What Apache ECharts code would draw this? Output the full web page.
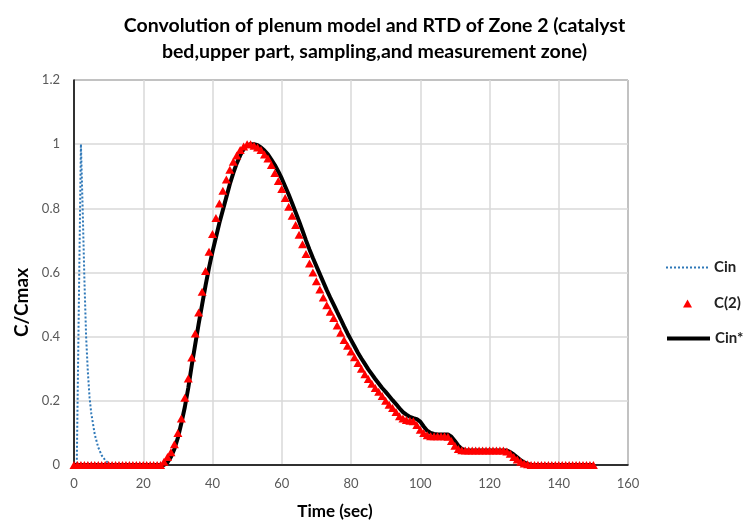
<!DOCTYPE html>
<html>
<head>
    <meta charset="utf-8">
    <script src="https://cdn.jsdelivr.net/npm/echarts@6/dist/echarts.min.js"></script>
</head>
<body style="margin:0;background:#fff;">
    <div id="main" style="width: 749px;height:525px;"></div>
    <script type="text/javascript">

    // time (sec), sampled every second
    var time = [0,1,2,3,4,5,6,7,8,9,
        10,11,12,13,14,15,16,17,18,19,
        20,21,22,23,24,25,26,27,28,29,
        30,31,32,33,34,35,36,37,38,39,
        40,41,42,43,44,45,46,47,48,49,
        50,51,52,53,54,55,56,57,58,59,
        60,61,62,63,64,65,66,67,68,69,
        70,71,72,73,74,75,76,77,78,79,
        80,81,82,83,84,85,86,87,88,89,
        90,91,92,93,94,95,96,97,98,99,
        100,101,102,103,104,105,106,107,108,109,
        110,111,112,113,114,115,116,117,118,119,
        120,121,122,123,124,125,126,127,128,129,
        130,131,132,133,134,135,136,137,138,139,
        140,141,142,143,144,145,146,147,148,149,150];

    // C(2) measured, C/Cmax
    var c2 = [0,0,0,0,0,0,0,0,0,0,
        0,0,0,0,0,0,0,0,0,0,
        0,0,0,0,0,0,0.01,0.025,0.04,0.065,
        0.10,0.145,0.21,0.27,0.335,0.41,0.475,0.54,0.605,0.665,
        0.72,0.77,0.815,0.855,0.89,0.92,0.945,0.965,0.982,0.993,
        1.0,1.0,0.995,0.99,0.982,0.968,0.955,0.935,0.91,0.885,
        0.86,0.832,0.805,0.777,0.748,0.718,0.688,0.658,0.628,0.6,
        0.573,0.547,0.522,0.498,0.478,0.458,0.435,0.412,0.39,0.372,
        0.354,0.336,0.318,0.3,0.283,0.268,0.253,0.24,0.228,0.215,
        0.2,0.188,0.178,0.165,0.152,0.145,0.14,0.138,0.136,0.125,
        0.11,0.1,0.093,0.09,0.09,0.09,0.09,0.09,0.088,0.075,
        0.06,0.05,0.046,0.045,0.045,0.045,0.045,0.045,0.045,0.045,
        0.045,0.045,0.045,0.045,0.045,0.042,0.035,0.025,0.017,0.01,
        0.005,0.002,0,0,0,0,0,0,0,0,
        0,0,0,0,0,0,0,0,0,0,0];

    // Cin* convolution result
    var cinStar = [0,0,0,0,0,0,0,0,0,0,
        0,0,0,0,0,0,0,0,0,0,
        0,0,0,0,0,0,0,0.008,0.025,0.05,
        0.085,0.13,0.18,0.24,0.31,0.375,0.44,0.5,0.56,0.615,
        0.665,0.71,0.755,0.795,0.835,0.875,0.91,0.94,0.965,0.985,
        0.996,1.0,1.0,0.997,0.99,0.98,0.968,0.952,0.935,0.915,
        0.893,0.868,0.843,0.816,0.788,0.76,0.73,0.7,0.672,0.645,
        0.62,0.595,0.57,0.545,0.522,0.5,0.477,0.455,0.432,0.41,
        0.39,0.37,0.35,0.332,0.315,0.298,0.283,0.268,0.254,0.24,
        0.228,0.215,0.202,0.19,0.177,0.165,0.157,0.15,0.146,0.143,
        0.135,0.12,0.107,0.1,0.097,0.095,0.095,0.095,0.095,0.088,
        0.075,0.06,0.05,0.046,0.045,0.045,0.045,0.045,0.045,0.045,
        0.045,0.045,0.045,0.045,0.045,0.045,0.04,0.033,0.024,0.015,
        0.008,0.003,0,0,0,0,0,0,0,0,
        0,0,0,0,0,0,0,0,0,0,0];

    // Cin plenum input
    var cinTime = [0,0.8,2,2.5,3,3.5,4,4.5,5,6,7,8,9,10,11,25];
    var cin = [0,0,1,0.8,0.58,0.4,0.29,0.21,0.16,0.095,0.055,0.03,0.015,0.005,0,0];

    function pairs(xs, ys) {
        return xs.map(function (x, i) { return [x, ys[i]]; });
    }

    var font = 'Lato, "Open Sans", sans-serif';
    var legendText = {fontFamily: font, fontSize: 15, fontWeight: 'bold', color: '#222'};
    var myChart = echarts.init(document.getElementById('main'));

    myChart.setOption({
        animation: false,
        title: {
            text: 'Convolution of plenum model and RTD of Zone 2 (catalyst\nbed,upper part, sampling,and measurement zone)',
            left: 'center',
            top: 8,
            textStyle: {fontFamily: font, fontSize: 19.5, fontWeight: 'bold', color: '#000', lineHeight: 26}
        },
        legend: [
            {data: ['Cin'], left: 665, top: 260, padding: 0, itemWidth: 43, itemHeight: 14,
             itemStyle: {opacity: 0}, lineStyle: {width: 2}, textStyle: legendText},
            {data: [{name: 'C(2)', icon: 'triangle'}], left: 683, top: 296, padding: 0, itemWidth: 9, itemHeight: 8,
             textStyle: {fontFamily: font, fontSize: 15, fontWeight: 'bold', color: '#222', padding: [0, 0, 0, 17]}},
            {data: ['Cin*'], left: 665, top: 331, padding: 0, itemWidth: 43, itemHeight: 14,
             itemStyle: {opacity: 0}, lineStyle: {width: 4}, textStyle: legendText}
        ],
        grid: {left: 74, right: 121, top: 80, bottom: 59, show: true, borderColor: '#000', borderWidth: 1},
        xAxis: {
            type: 'value', min: 0, max: 160, interval: 20,
            name: 'Time (sec)', nameLocation: 'middle', nameGap: 38,
            nameTextStyle: {fontFamily: font, fontSize: 17, fontWeight: 'bold', color: '#000', padding: [0, 32, 0, 0]},
            axisLine: {lineStyle: {color: '#000', width: 1.5}},
            axisTick: {show: false},
            axisLabel: {fontFamily: font, fontSize: 13, color: '#595959', margin: 12},
            splitLine: {lineStyle: {color: '#d9d9d9', width: 1.5}}
        },
        yAxis: {
            type: 'value', min: 0, max: 1.2, interval: 0.2,
            name: 'C/Cmax', nameLocation: 'middle', nameGap: 40,
            nameTextStyle: {fontFamily: font, fontSize: 19, fontWeight: 'bold', color: '#000', padding: [0, 60, 0, 0]},
            axisLine: {lineStyle: {color: '#000', width: 1.5}},
            axisTick: {show: false},
            axisLabel: {fontFamily: font, fontSize: 13, color: '#595959', margin: 14},
            splitLine: {lineStyle: {color: '#d9d9d9', width: 1.5}}
        },
        series: [
            {
                name: 'Cin',
                type: 'line',
                data: pairs(cinTime, cin),
                symbol: 'none',
                color: '#2e78b8',
                lineStyle: {color: '#2e78b8', width: 2, type: 'dotted'},
                z: 2
            },
            {
                name: 'Cin*',
                type: 'line',
                data: pairs(time, cinStar),
                symbol: 'none',
                color: '#000',
                lineStyle: {color: '#000', width: 4},
                z: 3
            },
            {
                name: 'C(2)',
                type: 'scatter',
                data: pairs(time, c2),
                symbol: 'triangle',
                symbolSize: [9, 8],
                itemStyle: {color: '#ff0000', opacity: 1},
                z: 4
            }
        ]
    });

</script>
</body>
</html>
